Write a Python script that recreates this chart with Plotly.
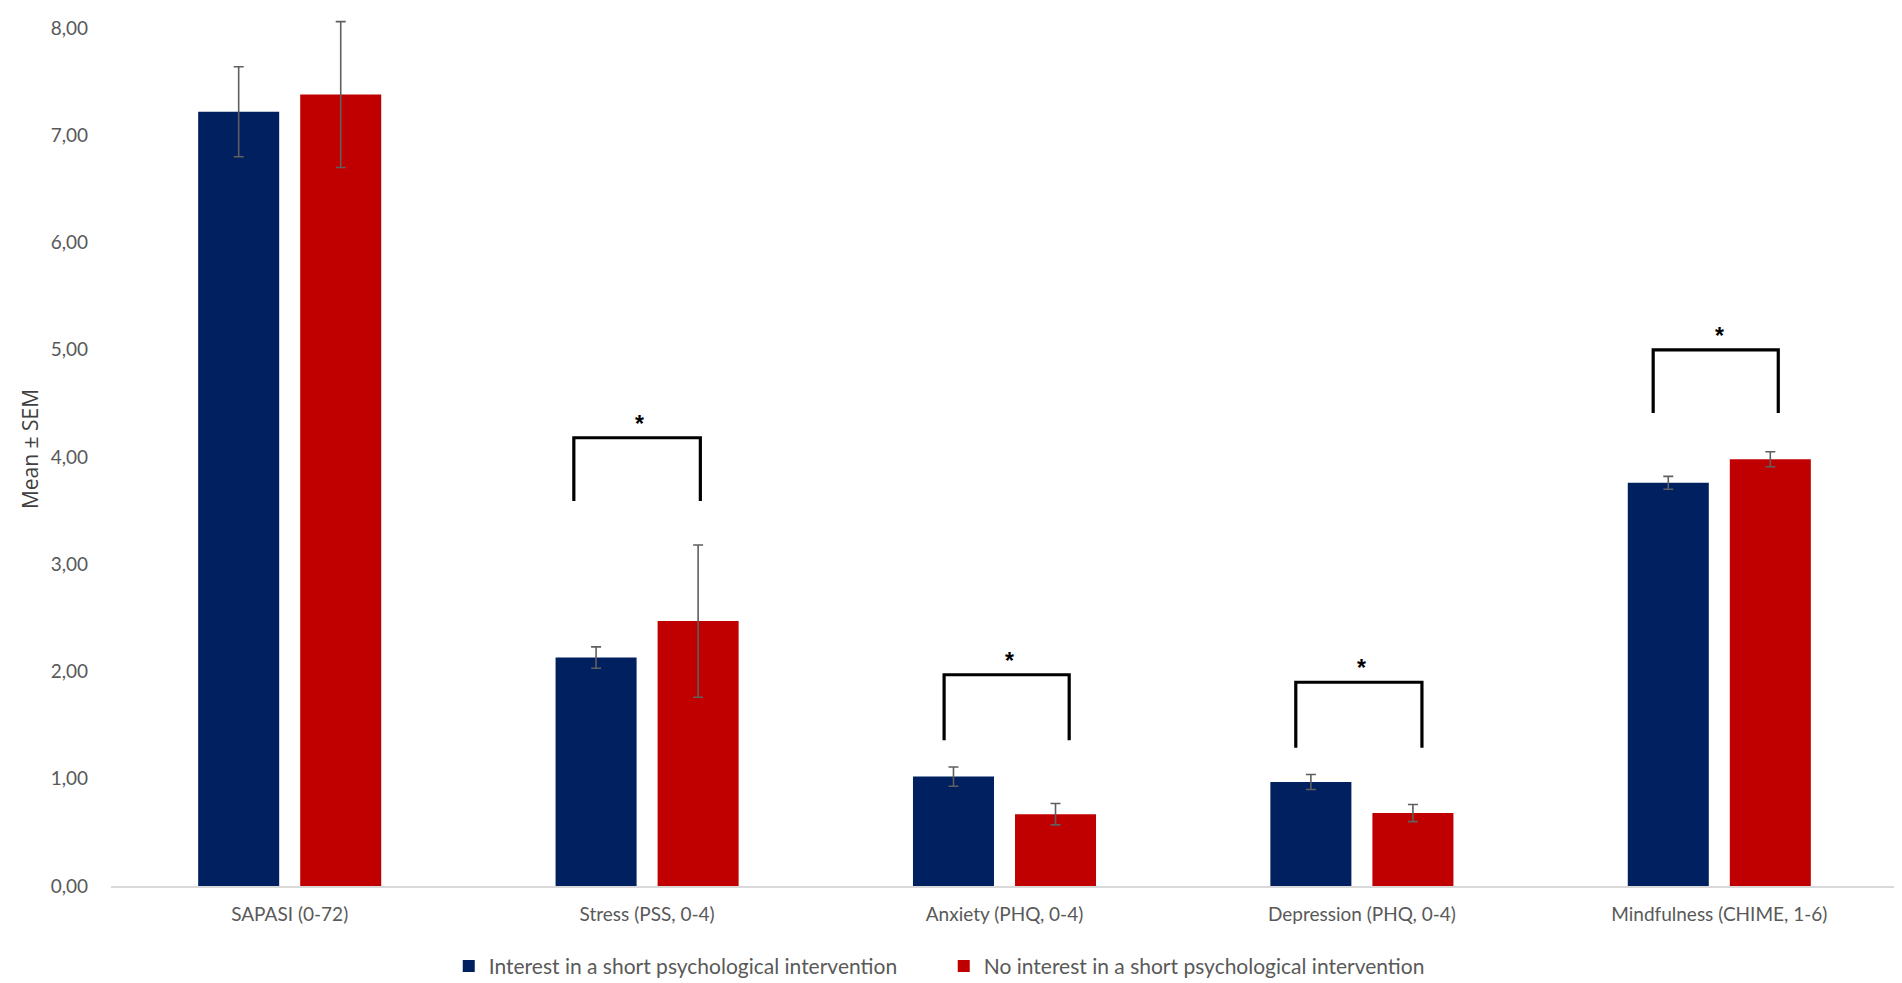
import plotly.graph_objects as go

# ---- data ----
categories = ["SAPASI (0-72)", "Stress (PSS, 0-4)", "Anxiety (PHQ, 0-4)",
              "Depression (PHQ, 0-4)", "Mindfulness (CHIME, 1-6)"]
interest_mean = [7.22, 2.13, 1.02, 0.97, 3.76]
interest_sem = [0.42, 0.10, 0.09, 0.07, 0.06]
no_interest_mean = [7.38, 2.47, 0.67, 0.68, 3.98]
no_interest_sem = [0.68, 0.71, 0.10, 0.08, 0.07]
series_names = ["Interest in a short psychological intervention",
                "No interest in a short psychological intervention"]
y_ticks = [0, 1, 2, 3, 4, 5, 6, 7, 8]

# significance brackets: category index, bracket top, leg bottom
sig_index = [1, 2, 3, 4]
sig_top = [4.18, 1.97, 1.90, 5.00]
sig_leg = [3.59, 1.36, 1.29, 4.41]
sig_label = ["*", "*", "*", "*"]

# ---- styles / geometry ----
BLUE = "#002060"
RED = "#C00000"
ERR = "#5F5F5F"
TXT = "#595959"
FONT = "Lato"
leg_left = [-0.205, -0.169, -0.185, -0.185]
leg_right = [0.149, 0.181, 0.168, 0.165]
star_dx = [-0.02, 0.013, 0.0, 0.0]
star_dy = 0.13

x_idx = list(range(len(categories)))

fig = go.Figure()
fig.add_trace(go.Bar(
    x=x_idx, y=interest_mean, name=series_names[0],
    marker=dict(color=BLUE, line=dict(width=0)),
    error_y=dict(type="data", array=interest_sem, visible=True,
                 color=ERR, thickness=1.6, width=5),
))
fig.add_trace(go.Bar(
    x=x_idx, y=no_interest_mean, name=series_names[1],
    marker=dict(color=RED, line=dict(width=0)),
    error_y=dict(type="data", array=no_interest_sem, visible=True,
                 color=ERR, thickness=1.6, width=5),
))

shapes = []
annotations = []
for k, ci in enumerate(sig_index):
    x0 = ci + leg_left[k]
    x1 = ci + leg_right[k]
    shapes.append(dict(
        type="path", xref="x", yref="y",
        path=f"M {x0},{sig_leg[k]} L {x0},{sig_top[k]} L {x1},{sig_top[k]} L {x1},{sig_leg[k]}",
        line=dict(color="black", width=3.2),
    ))
    annotations.append(dict(
        x=ci + star_dx[k], y=sig_top[k] + star_dy, xref="x", yref="y",
        text="<b>" + sig_label[k] + "</b>", showarrow=False,
        font=dict(family="Liberation Sans", size=23, color="black"),
        xanchor="center", yanchor="middle",
    ))

fig.update_layout(
    width=1902, height=983,
    paper_bgcolor="white", plot_bgcolor="white",
    separators=",.",
    barmode="group", bargap=0.429, bargroupgap=0.206,
    margin=dict(l=103, r=12, t=4, b=102),
    font=dict(family=FONT, size=19, color=TXT),
    showlegend=True,
    legend=dict(orientation="h", x=0.466, xanchor="center",
                y=-0.092, yanchor="middle",
                font=dict(family=FONT, size=21, color=TXT),
                itemwidth=30, traceorder="normal",
                entrywidth=450, entrywidthmode="pixels"),
    shapes=shapes,
    annotations=annotations,
)
fig.update_xaxes(
    range=[-0.5, len(categories) - 0.5],
    tickmode="array", tickvals=x_idx, ticktext=categories,
    showgrid=False, zeroline=False,
    showline=True, linecolor="#D9D9D9", linewidth=1.5,
    ticks="", tickfont=dict(family=FONT, size=19, color=TXT),
    ticklabelstandoff=10,
)
fig.update_yaxes(
    range=[0, 8.15],
    tickmode="array", tickvals=y_ticks, tickformat=".2f",
    showgrid=False, zeroline=False, showline=False,
    ticks="", tickfont=dict(family=FONT, size=19, color=TXT),
    ticklabelstandoff=22,
    title=dict(text="Mean ± SEM", standoff=6,
               font=dict(family="Open Sans", size=21, color="#404040")),
)

fig.write_html("out.html")
